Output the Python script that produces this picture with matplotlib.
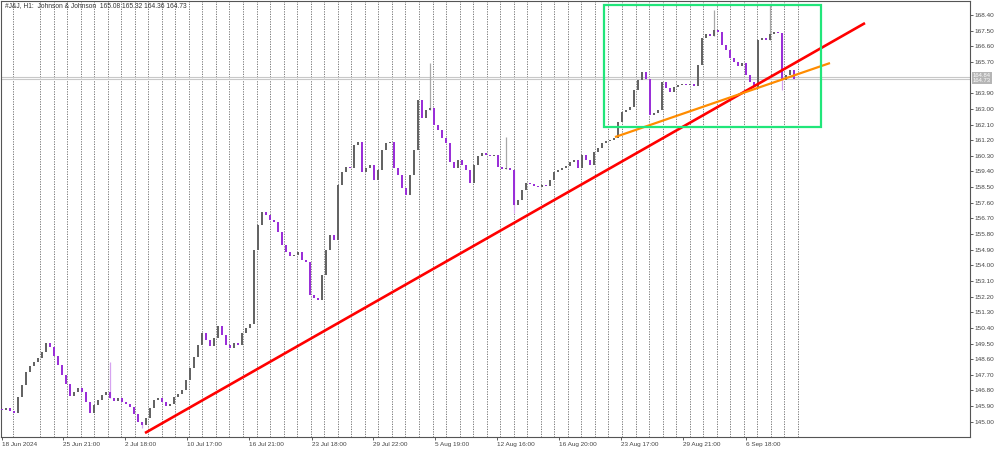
import numpy as np
import matplotlib.pyplot as plt
from matplotlib.patches import Rectangle
from matplotlib.transforms import blended_transform_factory

closes = [
    145.67, 145.79, 145.61, 145.50, 146.42, 147.11, 147.86, 148.20, 148.43, 148.66,
    149.01, 149.53, 149.30, 148.78, 148.26, 147.69, 147.17, 146.48, 146.71, 146.94,
    146.71, 146.13, 145.50, 145.96, 146.25, 146.53, 146.71, 146.36, 146.19, 146.36,
    146.13, 146.02, 145.84, 145.44, 144.98, 144.81, 145.21, 145.79, 146.25, 146.36,
    146.13, 145.90, 146.02, 146.42, 146.59, 146.82, 147.40, 148.09, 148.72, 149.41,
    150.10, 149.70, 149.35, 149.81, 150.50, 149.99, 149.41, 149.24, 149.53, 149.41,
    150.10, 150.39, 150.62, 154.88, 156.32, 157.06, 156.89, 156.60, 156.49, 155.91,
    155.17, 154.76, 154.53, 154.59, 154.76, 154.30, 154.19, 152.29, 152.12, 152.00,
    153.44, 154.88, 155.74, 155.45, 158.62, 159.37, 159.65, 159.60, 160.92, 161.09,
    159.37, 159.60, 159.77, 158.91, 159.48, 160.63, 161.03, 161.09, 159.60, 159.19,
    158.45, 158.04, 159.19, 160.63, 163.51, 162.47, 162.93, 163.05, 162.07, 161.78,
    161.32, 161.03, 159.94, 159.60, 160.06, 159.77, 159.48, 158.73, 159.77, 160.29,
    160.46, 160.34, 160.29, 160.34, 159.65, 159.54, 159.60, 159.48, 157.47, 157.76,
    158.33, 158.73, 158.68, 158.56, 158.50, 158.62, 158.56, 158.91, 159.37, 159.48,
    159.60, 159.71, 159.94, 160.06, 159.60, 160.34, 160.06, 159.77, 160.52, 160.75,
    161.03, 161.15, 161.21, 161.32, 162.24, 162.82, 162.93, 163.11, 164.08, 164.66,
    165.12, 164.72, 162.65, 162.76, 162.93, 164.55, 164.20, 163.97, 164.26, 164.37,
    164.43, 164.37, 164.43, 164.31, 165.52, 167.08, 167.31, 167.19, 167.54, 167.42,
    166.67, 166.39, 165.93, 165.70, 165.47, 165.64, 164.95, 164.55, 164.26, 166.96,
    167.08, 166.96, 167.31, 167.42, 167.36, 164.66, 164.95, 165.24, 164.73,
]
first_open = 145.75
spike_highs = {27: 148.43, 107: 165.64, 126: 161.38, 178: 168.69, 192: 168.98}
spike_lows = {35: 144.64, 128: 157.00, 195: 164.08}

date_labels = ["18 Jun 2024", "25 Jun 21:00", "2 Jul 18:00", "10 Jul 17:00",
               "16 Jul 21:00", "23 Jul 18:00", "29 Jul 22:00", "5 Aug 19:00",
               "12 Aug 16:00", "16 Aug 20:00", "23 Aug 17:00", "29 Aug 21:00",
               "6 Sep 18:00"]
date_pos = [0, 15.25, 30.75, 46.25, 61.75, 77.5, 92.75, 108.25, 123.75,
            139.25, 154.75, 170.25, 186]

price_ticks = [168.40, 167.50, 166.60, 165.70, 163.90, 163.00, 162.10, 161.20,
               160.30, 159.40, 158.50, 157.60, 156.70, 155.80, 154.90, 154.00,
               153.10, 152.20, 151.30, 150.40, 149.50, 148.60, 147.70, 146.80,
               145.90, 145.00]
bid, ask = 164.73, 164.84

# trend objects drawn on the chart
red_line = ([35.75, 215.75], [144.35, 167.94])
orange_line = ([153.25, 207.0], [161.38, 165.64])
green_box = (150.5, 161.98, 204.75, 169.00)

opens = [first_open] + closes[:-1]
idx = np.arange(len(closes))

fig = plt.figure(figsize=(10, 4.49), dpi=100)
ax = fig.add_axes([0.001, 12 / 449, 0.969, 436 / 449])
ax.set_xlim(-0.25, 242.0)
ax.set_ylim(144.12, 169.21)

# period separators (one per trading day)
seps = [13] + list(np.linspace(40, 798, 57))
for p in seps:
    ax.axvline((p - 2) / 4, color='#666666', lw=0.6, ls=(0, (1.5, 1.5)), zorder=1)

# bid / ask lines
for pr in (bid, ask):
    ax.axhline(pr, color='#c8c8c8', lw=0.8, zorder=1)

# candles
for i, o, c in zip(idx, opens, closes):
    up = c >= o
    body = '#646464' if up else '#9a2fd8'
    wick = '#a8a8a8' if up else '#d6a3f0'
    hi = spike_highs.get(i, max(o, c))
    lo = spike_lows.get(i, min(o, c))
    if hi > max(o, c) or lo < min(o, c):
        ax.vlines(i, lo, hi, color=wick, lw=0.9, zorder=2)
    h = max(abs(c - o), 0.08)
    ax.bar(i, h, bottom=min(o, c) - (h - abs(c - o)) / 2, width=0.6,
           color=body, lw=0, zorder=3)

ax.plot(*red_line, color='#ff0000', lw=1.9, solid_capstyle='butt', zorder=5)
ax.plot(*orange_line, color='#ff8c00', lw=1.6, solid_capstyle='butt', zorder=5)
x0, y0, x1, y1 = green_box
ax.add_patch(Rectangle((x0, y0), x1 - x0, y1 - y0, fill=False,
                       edgecolor='#21e67a', lw=1.6, zorder=6))

# axes styling
for s in ax.spines.values():
    s.set_color('#555555')
    s.set_linewidth(0.8)
ax.yaxis.tick_right()
ax.set_yticks(price_ticks, [f'{v:.2f}' for v in price_ticks])
ax.set_xticks(date_pos, date_labels)
for lbl in ax.get_xticklabels():
    lbl.set_ha('left')
ax.tick_params(axis='both', labelsize=4.6, colors='#444444', length=2.5,
               width=0.6, pad=1)
for lbl in ax.get_xticklabels() + ax.get_yticklabels():
    lbl.set_family('Liberation Sans')

# current price box on the axis
tr = blended_transform_factory(ax.transAxes, ax.transData)
ax.text(1.003, (bid + ask) / 2, f'{ask:.2f}\n{bid:.2f}', transform=tr,
        fontsize=4.2, family='Liberation Sans', color='white', va='center',
        ha='left', linespacing=0.95, clip_on=False,
        bbox=dict(boxstyle='square,pad=0.15', fc='#b5b5b5', ec='none'))

fig.text(0.005, 1 - 6 / 449,
         '#J&J, H1:  Johnson & Johnson  165.08 165.32 164.36 164.73',
         fontsize=4.8, family='Liberation Sans', color='#333333', va='center')

fig.savefig('out.png', dpi=100)
